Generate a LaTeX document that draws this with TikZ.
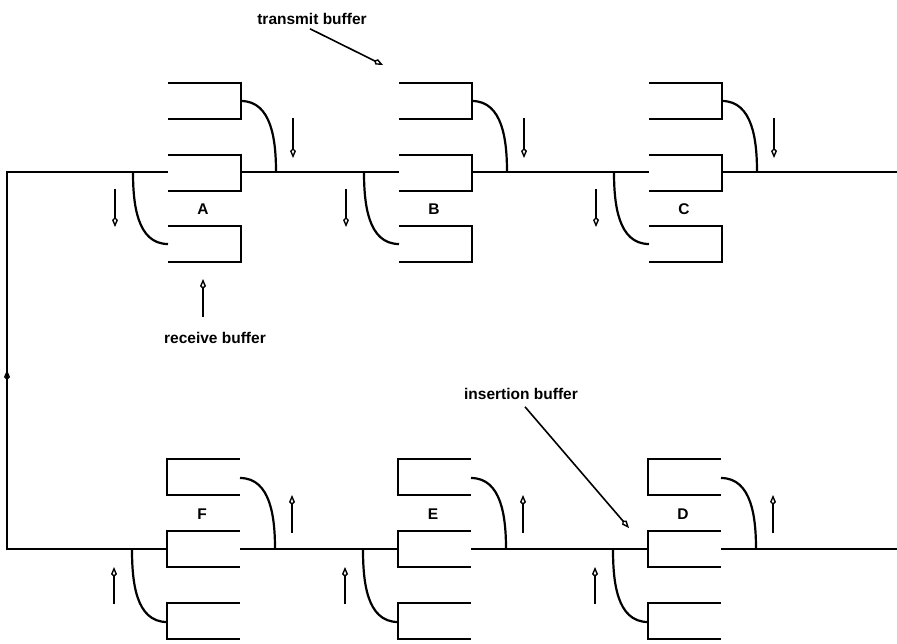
\documentclass[tikz,border=0pt]{standalone}
\usepackage{fontspec}
\setmainfont{Liberation Sans}
\usetikzlibrary{arrows.meta}

\begin{document}
\begin{tikzpicture}[
        x=1pt, y=-1pt,
        line width=2.2pt,
        font=\fontsize{15.5}{17}\selectfont\bfseries
    ]
    \tikzset{
        bufbox/.style = {line width=2.2pt, line join=miter},
        ringline/.style = {line width=2.2pt},
        tapline/.style = {line width=2.2pt},
        flow/.style = {line width=1.8pt, -{Kite[open,length=10pt,width=6pt,inset=3pt,line width=1.4pt]}},
        pointer/.style = {line width=1.6pt, -{Kite[open,length=10pt,width=6pt,inset=3pt,line width=1.4pt]}},
        station/.style = {inner sep=0pt},
        tag/.style = {inner sep=0pt},
    }
    \useasboundingbox (0,0) rectangle (897,643);
        % upper stations, ring runs left to right
        \foreach \n/\L/\lbl in {a/168/A, b/399/B, c/649/C} {
            \foreach \yt in {83,155,226}
                \draw[bufbox] (\L,\yt) -- (\L+73,\yt) -- (\L+73,\yt+36) -- (\L,\yt+36);
            \node[station] (\n) at (\L+35,209) {\lbl};
            \coordinate (\n-left)  at (\L,172);
            \coordinate (\n-right) at (\L+73,172);
            \coordinate (\n-rx)    at (\L-35,172);
            \coordinate (\n-tx)    at (\L+108,172);
            \draw[tapline] (\L+73,101) to[out=0,in=90] (\n-tx);
            \draw[tapline] (\n-rx) to[out=-90,in=180] (\L,244);
            \draw[flow] (\L+125,118) -- (\L+125,158);
            \draw[flow] (\L-53,189) -- (\L-53,227);
        }
        % lower stations, ring runs right to left
        \foreach \n/\L/\lbl in {f/167/F, e/398/E, d/648/D} {
            \foreach \yt in {459,531,603}
                \draw[bufbox] (\L+73,\yt) -- (\L,\yt) -- (\L,\yt+36) -- (\L+73,\yt+36);
            \node[station] (\n) at (\L+35,514) {\lbl};
            \coordinate (\n-left)  at (\L,549);
            \coordinate (\n-right) at (\L+73,549);
            \coordinate (\n-rx)    at (\L+108,549);
            \coordinate (\n-tx)    at (\L-35,549);
            \draw[tapline] (\L+73,478) to[out=0,in=90] (\n-rx);
            \draw[tapline] (\n-tx) to[out=-90,in=180] (\L,622);
            \draw[flow] (\L+125,533) -- (\L+125,495);
            \draw[flow] (\L-53,604) -- (\L-53,567);
        }
        %
        \coordinate (corner-top) at (7,172);
        \coordinate (corner-bot) at (7,549);
        \coordinate (exit-top) at (897,172);
        \coordinate (exit-bot) at (897,549);
        \draw[ringline] (f-left) -- (corner-bot) -- (corner-top) -- (a-left);
        \draw[ringline] (a-right) -- (b-left);
        \draw[ringline] (b-right) -- (c-left);
        \draw[ringline] (c-right) -- (exit-top);
        \draw[ringline] (exit-bot) -- (d-right);
        \draw[ringline] (d-left) -- (e-right);
        \draw[ringline] (e-left) -- (f-right);
        \draw[flow] (7,392) -- (7,370);
        %
        \node[tag] (transmit) at (312,19) {transmit buffer};
        \node[tag] (receive) at (215,338) {receive buffer};
        \node[tag] (insertion) at (521,394) {insertion buffer};
        \coordinate (transmit-tip) at (383,65);
        \coordinate (receive-tail) at (203,317);
        \coordinate (receive-tip) at (203,279);
        \coordinate (insertion-tip) at (629,528);
        \draw[pointer] ([xshift=-2pt,yshift=-3pt]transmit.south) -- (transmit-tip);
        \draw[pointer] (receive-tail) -- (receive-tip);
        \draw[pointer] ([xshift=4pt,yshift=-6pt]insertion.south) -- (insertion-tip);
\end{tikzpicture}
\end{document}
